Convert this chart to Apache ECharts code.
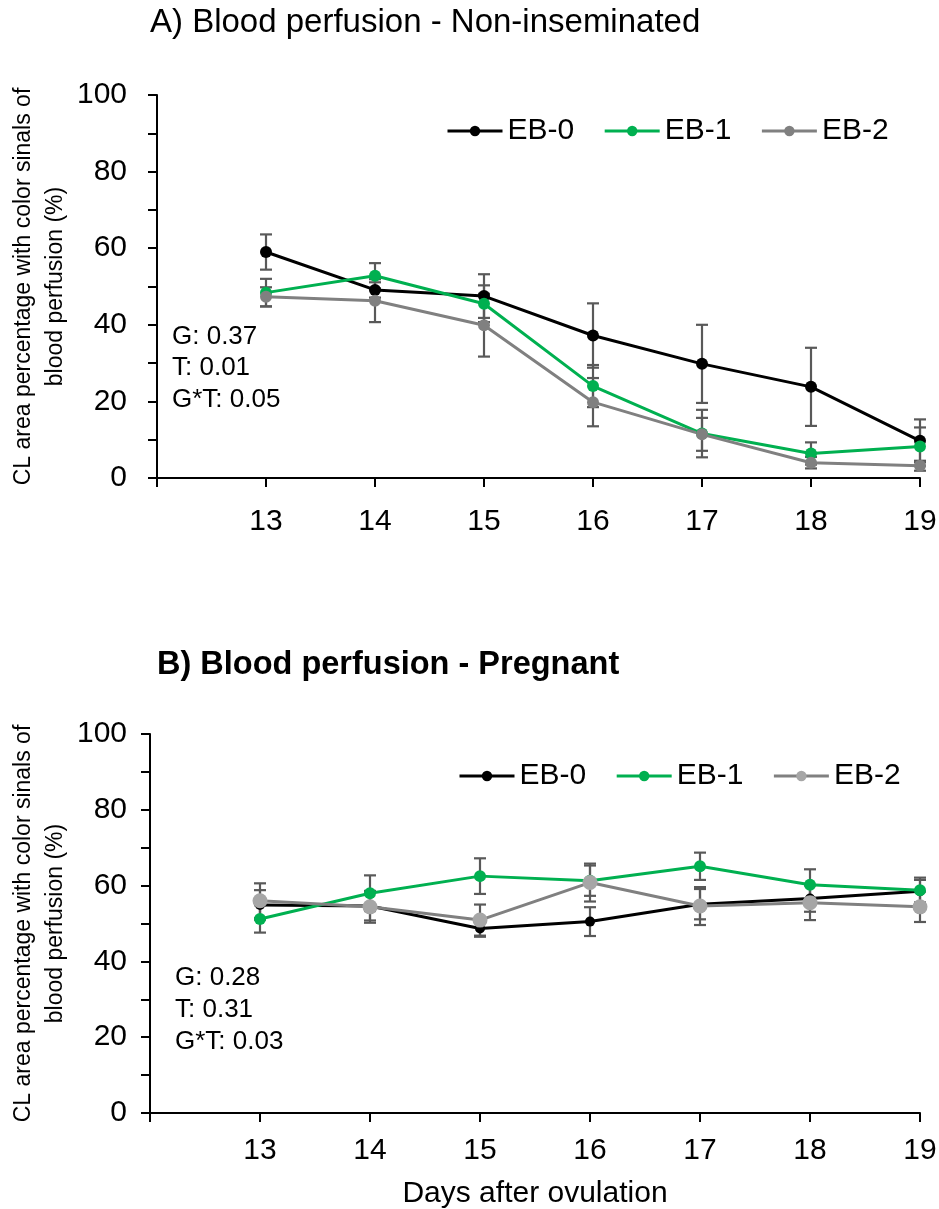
<!DOCTYPE html>
<html>
<head>
<meta charset="utf-8">
<script src="https://cdn.jsdelivr.net/npm/echarts@6/dist/echarts.min.js"></script>
<style>
  html, body { margin: 0; padding: 0; background: #ffffff; }
  #chart { width: 939px; height: 1209px; }
</style>
</head>
<body>
<div id="chart"></div>
<script>
// Days after ovulation
const days = [13, 14, 15, 16, 17, 18, 19];
const yTicks = [0, 20, 40, 60, 80, 100];

// A) Non-inseminated: mean and SE per group
const eb0A = [59.0, 49.1, 47.5, 37.2, 29.8, 23.8, 9.7];
const eb0ASe = [4.6, 2.0, 5.7, 8.4, 10.2, 10.2, 5.6];
const eb1A = [48.4, 52.8, 45.5, 24.0, 11.6, 6.4, 8.2];
const eb1ASe = [3.6, 3.3, 4.8, 5.5, 6.2, 2.9, 5.0];
const eb2A = [47.3, 46.3, 39.9, 19.8, 11.4, 4.0, 3.2];
const eb2ASe = [2.5, 5.6, 8.2, 6.3, 4.3, 1.5, 1.3];

// B) Pregnant: mean and SE per group
const eb0B = [54.9, 54.6, 48.7, 50.5, 55.1, 56.6, 58.5];
const eb0BSe = [3.9, 3.8, 2.2, 3.8, 4.0, 3.5, 3.0];
const eb1B = [51.2, 58.0, 62.5, 61.3, 65.1, 60.2, 58.8];
const eb1BSe = [3.6, 4.7, 4.7, 4.0, 3.6, 4.1, 3.3];
const eb2B = [56.0, 54.4, 50.9, 60.8, 54.6, 55.5, 54.4];
const eb2BSe = [4.6, 4.2, 4.1, 5.0, 5.0, 4.6, 4.0];

const groupNames = ['EB-0', 'EB-1', 'EB-2'];
const statsA = 'G: 0.37\nT: 0.01\nG*T: 0.05';
const statsB = 'G: 0.28\nT: 0.31\nG*T: 0.03';
const titleA = 'A) Blood perfusion - Non-inseminated';
const titleB = 'B) Blood perfusion - Pregnant';
const yName = 'CL area percentage with color sinals of\nblood perfusion (%)';
const xName = 'Days after ovulation';

const FONT = '"Liberation Sans", Arial, Helvetica, sans-serif';
const BLACK = '#000000';
const GREEN = '#00B050';
const GREY = '#808080';
const LIGHT_GREY = '#A6A6A6';
const ERR = '#595959';

const chart = echarts.init(document.getElementById('chart'), null, { renderer: 'canvas' });

function xAxis(gridIndex, labelMargin, withName) {
  return {
    type: 'value', gridIndex, min: 12, max: 19, interval: 1,
    axisLine: { lineStyle: { color: BLACK, width: 2 } },
    axisTick: { show: true, inside: false, length: 9, lineStyle: { color: BLACK, width: 2 } },
    axisLabel: {
      margin: labelMargin, fontSize: 30, color: BLACK, fontFamily: FONT,
      formatter: v => (days.indexOf(v) >= 0 ? String(v) : '')
    },
    splitLine: { show: false },
    name: withName ? xName : '',
    nameLocation: 'middle', nameGap: 66, nameMoveOverlap: false,
    nameTextStyle: { fontSize: 30, color: BLACK, fontFamily: FONT }
  };
}

function yAxis(gridIndex, labelMargin, nameGap) {
  return {
    type: 'value', gridIndex, min: yTicks[0], max: yTicks[yTicks.length - 1], interval: 20,
    axisLine: { show: true, lineStyle: { color: BLACK, width: 2 } },
    axisTick: { show: true, inside: false, length: 9, lineStyle: { color: BLACK, width: 2 } },
    minorTick: { show: true, splitNumber: 2, length: 9, lineStyle: { color: BLACK, width: 2 } },
    axisLabel: { margin: labelMargin, fontSize: 30, color: BLACK, fontFamily: FONT },
    splitLine: { show: false },
    name: yName, nameLocation: 'middle', nameRotate: 90, nameGap, nameMoveOverlap: false,
    nameTextStyle: { fontSize: 23, lineHeight: 32, color: BLACK, fontFamily: FONT, align: 'center' }
  };
}

function lineSeries(name, values, color, markColor, size, idx) {
  return {
    type: 'line', name, xAxisIndex: idx, yAxisIndex: idx, z: 3,
    data: days.map((d, i) => [d, values[i]]),
    symbol: 'circle', symbolSize: size,
    lineStyle: { color, width: 3 },
    itemStyle: { color: markColor, borderWidth: 0 },
    emphasis: { disabled: true }
  };
}

// Vertical SE whiskers with caps
function errorSeries(name, values, ses, idx) {
  return {
    type: 'custom', name: name + ' SE', xAxisIndex: idx, yAxisIndex: idx, z: 2,
    silent: true,
    data: days.map((d, i) => [d, values[i] - ses[i], values[i] + ses[i]]),
    encode: { x: 0, y: [1, 2] },
    renderItem(params, api) {
      const x = api.value(0);
      const lo = api.coord([x, api.value(1)]);
      const hi = api.coord([x, api.value(2)]);
      const w = 6;
      const style = { stroke: ERR, lineWidth: 2.2 };
      return {
        type: 'group',
        children: [
          { type: 'line', shape: { x1: lo[0], y1: lo[1], x2: hi[0], y2: hi[1] }, style },
          { type: 'line', shape: { x1: lo[0] - w, y1: lo[1], x2: lo[0] + w, y2: lo[1] }, style },
          { type: 'line', shape: { x1: hi[0] - w, y1: hi[1], x2: hi[0] + w, y2: hi[1] }, style }
        ]
      };
    }
  };
}

const legendBase = {
  orient: 'horizontal', padding: 0, itemWidth: 55, itemHeight: 13, itemGap: 29,
  textStyle: { fontSize: 30, color: BLACK, fontFamily: FONT },
  lineStyle: { width: 3 },
  selectedMode: false
};

const option = {
  animation: false,
  backgroundColor: '#ffffff',
  title: [
    { text: titleA, left: 150, top: 6, padding: 0,
      textStyle: { fontSize: 33, fontWeight: 'normal', color: BLACK, fontFamily: FONT } },
    { text: titleB, left: 157, top: 649, padding: 0,
      textStyle: { fontSize: 32.5, fontWeight: 'bold', color: BLACK, fontFamily: FONT } }
  ],
  legend: [
    Object.assign({}, legendBase, { left: 446, top: 116, data: groupNames.slice() }),
    Object.assign({}, legendBase, {
      left: 458, top: 761,
      data: [
        { name: 'EB-0' },
        { name: 'EB-1' },
        { name: 'EB-2', itemStyle: { color: LIGHT_GREY }, lineStyle: { color: GREY, width: 3 } }
      ]
    })
  ],
  grid: [
    { left: 157, top: 95, width: 763, height: 383, containLabel: false, outerBoundsMode: 'none' },
    { left: 150, top: 734, width: 770, height: 379, containLabel: false, outerBoundsMode: 'none' }
  ],
  xAxis: [xAxis(0, 29, false), xAxis(1, 23, true)],
  yAxis: [yAxis(0, 30, 85), yAxis(1, 23, 78)],
  graphic: [
    { type: 'text', left: 172, top: 321,
      style: { text: statsA, fontSize: 26, lineHeight: 31.5, fill: BLACK, fontFamily: FONT } },
    { type: 'text', left: 175, top: 962,
      style: { text: statsB, fontSize: 26, lineHeight: 32, fill: BLACK, fontFamily: FONT } }
  ],
  series: [
    errorSeries('EB-0', eb0A, eb0ASe, 0),
    errorSeries('EB-1', eb1A, eb1ASe, 0),
    errorSeries('EB-2', eb2A, eb2ASe, 0),
    lineSeries('EB-0', eb0A, BLACK, BLACK, 12, 0),
    lineSeries('EB-1', eb1A, GREEN, GREEN, 12, 0),
    lineSeries('EB-2', eb2A, GREY, GREY, 12, 0),

    errorSeries('EB-0', eb0B, eb0BSe, 1),
    errorSeries('EB-1', eb1B, eb1BSe, 1),
    errorSeries('EB-2', eb2B, eb2BSe, 1),
    lineSeries('EB-0', eb0B, BLACK, BLACK, 10, 1),
    lineSeries('EB-1', eb1B, GREEN, GREEN, 12, 1),
    lineSeries('EB-2', eb2B, GREY, LIGHT_GREY, 15, 1)
  ]
};

chart.setOption(option);
</script>
</body>
</html>
